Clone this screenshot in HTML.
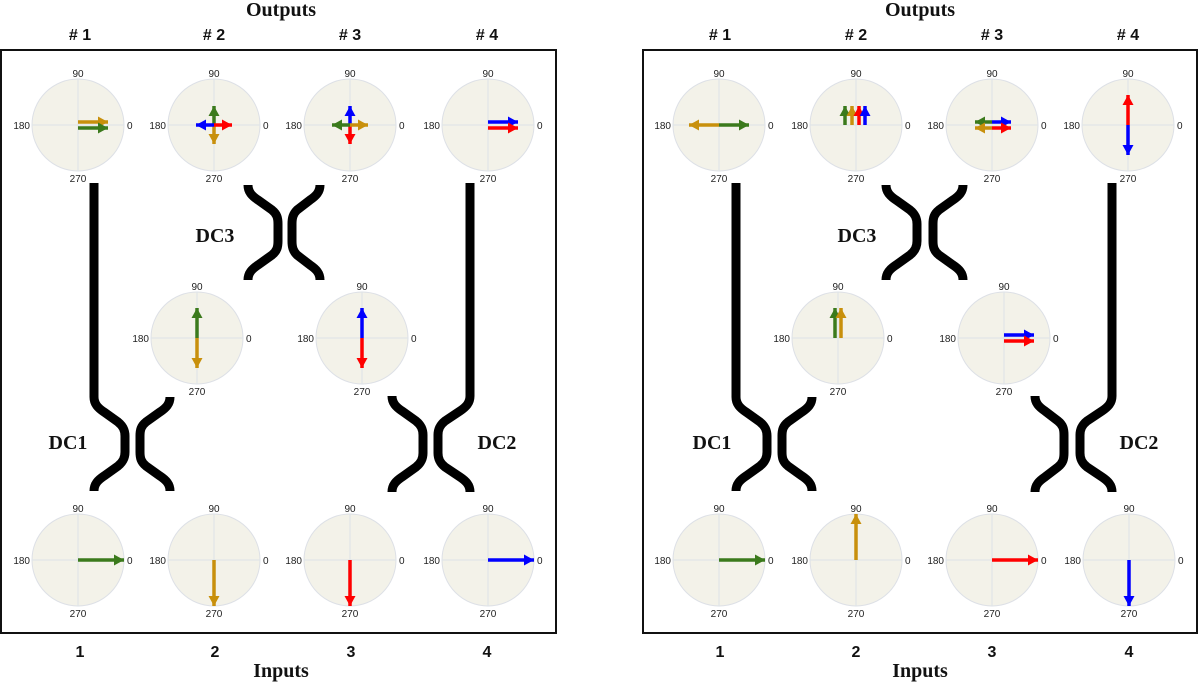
<!DOCTYPE html>
<html><head><meta charset="utf-8"><style>html,body{margin:0;padding:0;background:#fff}svg{display:block}</style></head>
<body>
<svg width="1200" height="684" viewBox="0 0 1200 684" xmlns="http://www.w3.org/2000/svg">
<defs>
<marker id="mg" markerUnits="userSpaceOnUse" markerWidth="14" markerHeight="14" refX="10" refY="5.5" orient="auto" overflow="visible"><path d="M0,0 L10,5.5 L0,11 z" fill="#3b7a1c"/></marker>
<marker id="my" markerUnits="userSpaceOnUse" markerWidth="14" markerHeight="14" refX="10" refY="5.5" orient="auto" overflow="visible"><path d="M0,0 L10,5.5 L0,11 z" fill="#c8900c"/></marker>
<marker id="mr" markerUnits="userSpaceOnUse" markerWidth="14" markerHeight="14" refX="10" refY="5.5" orient="auto" overflow="visible"><path d="M0,0 L10,5.5 L0,11 z" fill="#ff0000"/></marker>
<marker id="mb" markerUnits="userSpaceOnUse" markerWidth="14" markerHeight="14" refX="10" refY="5.5" orient="auto" overflow="visible"><path d="M0,0 L10,5.5 L0,11 z" fill="#0000ff"/></marker>
</defs>
<style>
.c{fill:#f3f2e9;stroke:#dde0e6;stroke-width:1}
.g{stroke:#dde3e8;stroke-width:1}
.t{font-family:"Liberation Sans",sans-serif;font-size:10px;fill:#222}
.ag{stroke:#3b7a1c;stroke-width:3.5;marker-end:url(#mg)}
.ay{stroke:#c8900c;stroke-width:3.5;marker-end:url(#my)}
.ar{stroke:#ff0000;stroke-width:3.5;marker-end:url(#mr)}
.ab{stroke:#0000ff;stroke-width:3.5;marker-end:url(#mb)}
.w{fill:none;stroke:#000;stroke-width:9}
.h{font-family:"Liberation Serif",serif;font-weight:bold;font-size:20px;fill:#111}
.n{font-family:"Liberation Sans",sans-serif;font-weight:bold;font-size:16px;fill:#111}
</style>
<rect x="1" y="50" width="555" height="583" fill="none" stroke="#111" stroke-width="2"/>
<rect x="643" y="50" width="554" height="583" fill="none" stroke="#111" stroke-width="2"/>

<text class="h" x="281" y="16" text-anchor="middle">Outputs</text>
<text class="h" x="920" y="16" text-anchor="middle">Outputs</text>
<text class="n" x="80" y="40" text-anchor="middle"># 1</text>
<text class="n" x="214" y="40" text-anchor="middle"># 2</text>
<text class="n" x="350" y="40" text-anchor="middle"># 3</text>
<text class="n" x="487" y="40" text-anchor="middle"># 4</text>
<text class="n" x="720" y="40" text-anchor="middle"># 1</text>
<text class="n" x="856" y="40" text-anchor="middle"># 2</text>
<text class="n" x="992" y="40" text-anchor="middle"># 3</text>
<text class="n" x="1128" y="40" text-anchor="middle"># 4</text>
<text class="n" x="80" y="657" text-anchor="middle">1</text>
<text class="n" x="215" y="657" text-anchor="middle">2</text>
<text class="n" x="351" y="657" text-anchor="middle">3</text>
<text class="n" x="487" y="657" text-anchor="middle">4</text>
<text class="n" x="720" y="657" text-anchor="middle">1</text>
<text class="n" x="856" y="657" text-anchor="middle">2</text>
<text class="n" x="992" y="657" text-anchor="middle">3</text>
<text class="n" x="1129" y="657" text-anchor="middle">4</text>
<text class="h" x="281" y="677" text-anchor="middle">Inputs</text>
<text class="h" x="920" y="677" text-anchor="middle">Inputs</text>

<text class="h" x="68" y="449" text-anchor="middle">DC1</text>
<text class="h" x="215" y="242" text-anchor="middle">DC3</text>
<text class="h" x="497" y="449" text-anchor="middle">DC2</text>
<text class="h" x="712" y="449" text-anchor="middle">DC1</text>
<text class="h" x="857" y="242" text-anchor="middle">DC3</text>
<text class="h" x="1139" y="449" text-anchor="middle">DC2</text>

<!-- couplers left -->
<path class="w" d="M94,183 L94,397 C94,404 98,408 104,412 L118,422 C123,426 125,430 125,436 L125,452 C125,458 123,462 118,466 L104,476 C98,480 94,484 94,491"/>
<path class="w" d="M170,397 C170,404 166,408 160,412 L146,422 C141,426 140,430 140,436 L140,452 C140,458 141,462 146,466 L160,476 C166,480 170,484 170,491"/>
<path class="w" d="M392,396 C392,403 396,407 402,411 L416,421 C421,425 423,429 423,435 L423,453 C423,459 421,463 416,467 L402,477 C396,481 392,485 392,492"/>
<path class="w" d="M470,183 L470,396 C470,403 466,407 460,411 L445,421 C440,425 438,429 438,435 L438,453 C438,459 440,463 445,467 L460,477 C466,481 470,485 470,492"/>
<path class="w" d="M248,185 C248,192 252,196 258,200 L272,210 C277,214 278,218 278,224 L278,241 C278,247 277,251 272,255 L258,265 C252,269 248,273 248,280"/>
<path class="w" d="M320,185 C320,192 316,196 310,200 L297,210 C293,214 292,218 292,224 L292,241 C292,247 293,251 297,255 L310,265 C316,269 320,273 320,280"/>
<!-- couplers right -->
<path class="w" d="M736,183 L736,397 C736,404 740,408 746,412 L760,422 C765,426 767,430 767,436 L767,452 C767,458 765,462 760,466 L746,476 C740,480 736,484 736,491"/>
<path class="w" d="M812,397 C812,404 808,408 802,412 L788,422 C783,426 782,430 782,436 L782,452 C782,458 783,462 788,466 L802,476 C808,480 812,484 812,491"/>
<path class="w" d="M1035,396 C1035,403 1039,407 1045,411 L1058,421 C1063,425 1064,429 1064,435 L1064,453 C1064,459 1063,463 1058,467 L1045,477 C1039,481 1035,485 1035,492"/>
<path class="w" d="M1112,183 L1112,396 C1112,403 1108,407 1102,411 L1087,421 C1082,425 1080,429 1080,435 L1080,453 C1080,459 1082,463 1087,467 L1102,477 C1108,481 1112,485 1112,492"/>
<path class="w" d="M886,185 C886,192 890,196 896,200 L910,210 C915,214 917,218 917,224 L917,241 C917,247 915,251 910,255 L896,265 C890,269 886,273 886,280"/>
<path class="w" d="M963,185 C963,192 959,196 953,200 L939,210 C934,214 933,218 933,224 L933,241 C933,247 934,251 939,255 L953,265 C959,269 963,273 963,280"/>

<!-- circles: left top -->
<g><circle class="c" cx="78" cy="125" r="46"/><line class="g" x1="32" y1="125" x2="124" y2="125"/><line class="g" x1="78" y1="79" x2="78" y2="171"/><text class="t" x="78" y="77" text-anchor="middle">90</text><text class="t" x="78" y="182" text-anchor="middle">270</text><text class="t" x="30" y="129" text-anchor="end">180</text><text class="t" x="127" y="129">0</text></g>
<g><circle class="c" cx="214" cy="125" r="46"/><line class="g" x1="168" y1="125" x2="260" y2="125"/><line class="g" x1="214" y1="79" x2="214" y2="171"/><text class="t" x="214" y="77" text-anchor="middle">90</text><text class="t" x="214" y="182" text-anchor="middle">270</text><text class="t" x="166" y="129" text-anchor="end">180</text><text class="t" x="263" y="129">0</text></g>
<g><circle class="c" cx="350" cy="125" r="46"/><line class="g" x1="304" y1="125" x2="396" y2="125"/><line class="g" x1="350" y1="79" x2="350" y2="171"/><text class="t" x="350" y="77" text-anchor="middle">90</text><text class="t" x="350" y="182" text-anchor="middle">270</text><text class="t" x="302" y="129" text-anchor="end">180</text><text class="t" x="399" y="129">0</text></g>
<g><circle class="c" cx="488" cy="125" r="46"/><line class="g" x1="442" y1="125" x2="534" y2="125"/><line class="g" x1="488" y1="79" x2="488" y2="171"/><text class="t" x="488" y="77" text-anchor="middle">90</text><text class="t" x="488" y="182" text-anchor="middle">270</text><text class="t" x="440" y="129" text-anchor="end">180</text><text class="t" x="537" y="129">0</text></g>
<!-- left mid -->
<g><circle class="c" cx="197" cy="338" r="46"/><line class="g" x1="151" y1="338" x2="243" y2="338"/><line class="g" x1="197" y1="292" x2="197" y2="384"/><text class="t" x="197" y="290" text-anchor="middle">90</text><text class="t" x="197" y="395" text-anchor="middle">270</text><text class="t" x="149" y="342" text-anchor="end">180</text><text class="t" x="246" y="342">0</text></g>
<g><circle class="c" cx="362" cy="338" r="46"/><line class="g" x1="316" y1="338" x2="408" y2="338"/><line class="g" x1="362" y1="292" x2="362" y2="384"/><text class="t" x="362" y="290" text-anchor="middle">90</text><text class="t" x="362" y="395" text-anchor="middle">270</text><text class="t" x="314" y="342" text-anchor="end">180</text><text class="t" x="411" y="342">0</text></g>
<!-- left bottom -->
<g><circle class="c" cx="78" cy="560" r="46"/><line class="g" x1="32" y1="560" x2="124" y2="560"/><line class="g" x1="78" y1="514" x2="78" y2="606"/><text class="t" x="78" y="512" text-anchor="middle">90</text><text class="t" x="78" y="617" text-anchor="middle">270</text><text class="t" x="30" y="564" text-anchor="end">180</text><text class="t" x="127" y="564">0</text></g>
<g><circle class="c" cx="214" cy="560" r="46"/><line class="g" x1="168" y1="560" x2="260" y2="560"/><line class="g" x1="214" y1="514" x2="214" y2="606"/><text class="t" x="214" y="512" text-anchor="middle">90</text><text class="t" x="214" y="617" text-anchor="middle">270</text><text class="t" x="166" y="564" text-anchor="end">180</text><text class="t" x="263" y="564">0</text></g>
<g><circle class="c" cx="350" cy="560" r="46"/><line class="g" x1="304" y1="560" x2="396" y2="560"/><line class="g" x1="350" y1="514" x2="350" y2="606"/><text class="t" x="350" y="512" text-anchor="middle">90</text><text class="t" x="350" y="617" text-anchor="middle">270</text><text class="t" x="302" y="564" text-anchor="end">180</text><text class="t" x="399" y="564">0</text></g>
<g><circle class="c" cx="488" cy="560" r="46"/><line class="g" x1="442" y1="560" x2="534" y2="560"/><line class="g" x1="488" y1="514" x2="488" y2="606"/><text class="t" x="488" y="512" text-anchor="middle">90</text><text class="t" x="488" y="617" text-anchor="middle">270</text><text class="t" x="440" y="564" text-anchor="end">180</text><text class="t" x="537" y="564">0</text></g>
<!-- right top -->
<g><circle class="c" cx="719" cy="125" r="46"/><line class="g" x1="673" y1="125" x2="765" y2="125"/><line class="g" x1="719" y1="79" x2="719" y2="171"/><text class="t" x="719" y="77" text-anchor="middle">90</text><text class="t" x="719" y="182" text-anchor="middle">270</text><text class="t" x="671" y="129" text-anchor="end">180</text><text class="t" x="768" y="129">0</text></g>
<g><circle class="c" cx="856" cy="125" r="46"/><line class="g" x1="810" y1="125" x2="902" y2="125"/><line class="g" x1="856" y1="79" x2="856" y2="171"/><text class="t" x="856" y="77" text-anchor="middle">90</text><text class="t" x="856" y="182" text-anchor="middle">270</text><text class="t" x="808" y="129" text-anchor="end">180</text><text class="t" x="905" y="129">0</text></g>
<g><circle class="c" cx="992" cy="125" r="46"/><line class="g" x1="946" y1="125" x2="1038" y2="125"/><line class="g" x1="992" y1="79" x2="992" y2="171"/><text class="t" x="992" y="77" text-anchor="middle">90</text><text class="t" x="992" y="182" text-anchor="middle">270</text><text class="t" x="944" y="129" text-anchor="end">180</text><text class="t" x="1041" y="129">0</text></g>
<g><circle class="c" cx="1128" cy="125" r="46"/><line class="g" x1="1082" y1="125" x2="1174" y2="125"/><line class="g" x1="1128" y1="79" x2="1128" y2="171"/><text class="t" x="1128" y="77" text-anchor="middle">90</text><text class="t" x="1128" y="182" text-anchor="middle">270</text><text class="t" x="1080" y="129" text-anchor="end">180</text><text class="t" x="1177" y="129">0</text></g>
<!-- right mid -->
<g><circle class="c" cx="838" cy="338" r="46"/><line class="g" x1="792" y1="338" x2="884" y2="338"/><line class="g" x1="838" y1="292" x2="838" y2="384"/><text class="t" x="838" y="290" text-anchor="middle">90</text><text class="t" x="838" y="395" text-anchor="middle">270</text><text class="t" x="790" y="342" text-anchor="end">180</text><text class="t" x="887" y="342">0</text></g>
<g><circle class="c" cx="1004" cy="338" r="46"/><line class="g" x1="958" y1="338" x2="1050" y2="338"/><line class="g" x1="1004" y1="292" x2="1004" y2="384"/><text class="t" x="1004" y="290" text-anchor="middle">90</text><text class="t" x="1004" y="395" text-anchor="middle">270</text><text class="t" x="956" y="342" text-anchor="end">180</text><text class="t" x="1053" y="342">0</text></g>
<!-- right bottom -->
<g><circle class="c" cx="719" cy="560" r="46"/><line class="g" x1="673" y1="560" x2="765" y2="560"/><line class="g" x1="719" y1="514" x2="719" y2="606"/><text class="t" x="719" y="512" text-anchor="middle">90</text><text class="t" x="719" y="617" text-anchor="middle">270</text><text class="t" x="671" y="564" text-anchor="end">180</text><text class="t" x="768" y="564">0</text></g>
<g><circle class="c" cx="856" cy="560" r="46"/><line class="g" x1="810" y1="560" x2="902" y2="560"/><line class="g" x1="856" y1="514" x2="856" y2="606"/><text class="t" x="856" y="512" text-anchor="middle">90</text><text class="t" x="856" y="617" text-anchor="middle">270</text><text class="t" x="808" y="564" text-anchor="end">180</text><text class="t" x="905" y="564">0</text></g>
<g><circle class="c" cx="992" cy="560" r="46"/><line class="g" x1="946" y1="560" x2="1038" y2="560"/><line class="g" x1="992" y1="514" x2="992" y2="606"/><text class="t" x="992" y="512" text-anchor="middle">90</text><text class="t" x="992" y="617" text-anchor="middle">270</text><text class="t" x="944" y="564" text-anchor="end">180</text><text class="t" x="1041" y="564">0</text></g>
<g><circle class="c" cx="1129" cy="560" r="46"/><line class="g" x1="1083" y1="560" x2="1175" y2="560"/><line class="g" x1="1129" y1="514" x2="1129" y2="606"/><text class="t" x="1129" y="512" text-anchor="middle">90</text><text class="t" x="1129" y="617" text-anchor="middle">270</text><text class="t" x="1081" y="564" text-anchor="end">180</text><text class="t" x="1178" y="564">0</text></g>

<!-- arrows left -->
<line class="ay" x1="78" y1="122" x2="108" y2="122"/>
<line class="ag" x1="78" y1="128" x2="108" y2="128"/>
<line class="ag" x1="214" y1="125" x2="214" y2="106"/>
<line class="ay" x1="214" y1="125" x2="214" y2="144"/>
<line class="ab" x1="214" y1="125" x2="196" y2="125"/>
<line class="ar" x1="214" y1="125" x2="232" y2="125"/>
<line class="ab" x1="350" y1="125" x2="350" y2="106"/>
<line class="ar" x1="350" y1="125" x2="350" y2="144"/>
<line class="ag" x1="350" y1="125" x2="332" y2="125"/>
<line class="ay" x1="350" y1="125" x2="368" y2="125"/>
<line class="ab" x1="488" y1="122" x2="518" y2="122"/>
<line class="ar" x1="488" y1="128" x2="518" y2="128"/>
<line class="ag" x1="197" y1="338" x2="197" y2="308"/>
<line class="ay" x1="197" y1="338" x2="197" y2="368"/>
<line class="ab" x1="362" y1="338" x2="362" y2="308"/>
<line class="ar" x1="362" y1="338" x2="362" y2="368"/>
<line class="ag" x1="78" y1="560" x2="124" y2="560"/>
<line class="ay" x1="214" y1="560" x2="214" y2="606"/>
<line class="ar" x1="350" y1="560" x2="350" y2="606"/>
<line class="ab" x1="488" y1="560" x2="534" y2="560"/>
<!-- arrows right -->
<line class="ay" x1="719" y1="125" x2="689" y2="125"/>
<line class="ag" x1="719" y1="125" x2="749" y2="125"/>
<line class="ag" x1="845" y1="125" x2="845" y2="106"/>
<line class="ay" x1="852" y1="125" x2="852" y2="106"/>
<line class="ar" x1="859" y1="125" x2="859" y2="106"/>
<line class="ab" x1="865" y1="125" x2="865" y2="106"/>
<line class="ag" x1="992" y1="122" x2="975" y2="122"/>
<line class="ab" x1="992" y1="122" x2="1011" y2="122"/>
<line class="ay" x1="992" y1="128" x2="975" y2="128"/>
<line class="ar" x1="992" y1="128" x2="1011" y2="128"/>
<line class="ar" x1="1128" y1="125" x2="1128" y2="95"/>
<line class="ab" x1="1128" y1="125" x2="1128" y2="155"/>
<line class="ag" x1="835" y1="338" x2="835" y2="308"/>
<line class="ay" x1="841" y1="338" x2="841" y2="308"/>
<line class="ab" x1="1004" y1="335" x2="1034" y2="335"/>
<line class="ar" x1="1004" y1="341" x2="1034" y2="341"/>
<line class="ag" x1="719" y1="560" x2="765" y2="560"/>
<line class="ay" x1="856" y1="560" x2="856" y2="514"/>
<line class="ar" x1="992" y1="560" x2="1038" y2="560"/>
<line class="ab" x1="1129" y1="560" x2="1129" y2="606"/>
</svg>
</body></html>
